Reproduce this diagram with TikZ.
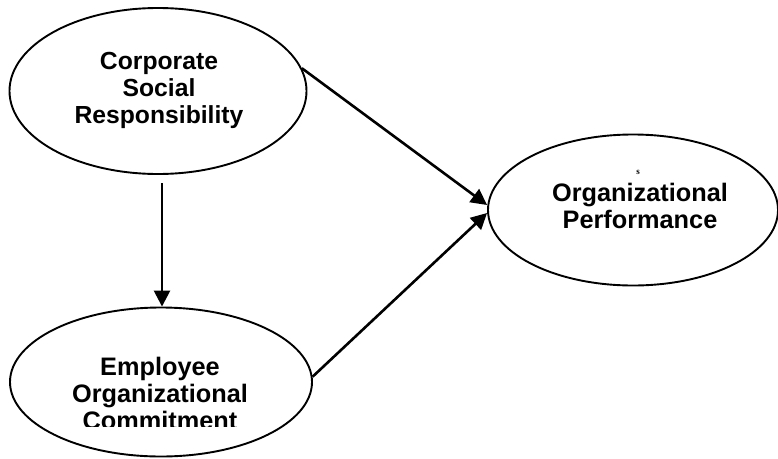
\documentclass[tikz,border=0pt]{standalone}
\usepackage{fontspec}
\setmainfont{Liberation Sans}
\newfontfamily\serifsmall{Liberation Serif}
\usetikzlibrary{shapes.geometric,arrows.meta}
\begin{document}
\begin{tikzpicture}[x=1pt,y=-1pt,
  oval/.style={draw,ellipse,line width=1.9pt,inner sep=0pt},
  lbl/.style={align=center,font=\fontsize{25.3}{27}\selectfont\bfseries},
  link/.style={line width=2.6pt,-{Triangle[length=16pt,width=16pt]}}]
\useasboundingbox (0,0) rectangle (778,458);
\node[oval,minimum width=297pt,minimum height=166pt] (csr) at (158,91) {};
\node[oval,minimum width=290pt,minimum height=151pt] (perf) at (633,210) {};
\node[oval,minimum width=302pt,minimum height=149pt] (eoc) at (161,382) {};
\node[lbl,font=\fontsize{24.7}{27}\selectfont\bfseries] (csrt) at (159,90) {Corporate\\Social\\Responsibility};
\node[lbl] (perft) at (640,206) {Organizational\\Performance};
\node[font=\serifsmall\fontsize{9}{9}\selectfont\bfseries] (s) at (638,172) {s};
\begin{scope}
\clip (0,0) rectangle (778,426);
\node[lbl,anchor=base] (eoct) at (160,429) {Employee\\Organizational\\Commitment};
\end{scope}
\coordinate (vstart) at (162,183);
\draw[link] (vstart) -- (vstart |- eoc.north);
\draw[link] (csr.9) -- ([yshift=5pt]perf.west);
\draw[link] (eoc.2) -- ([yshift=-3pt]perf.west);
\end{tikzpicture}
\end{document}
